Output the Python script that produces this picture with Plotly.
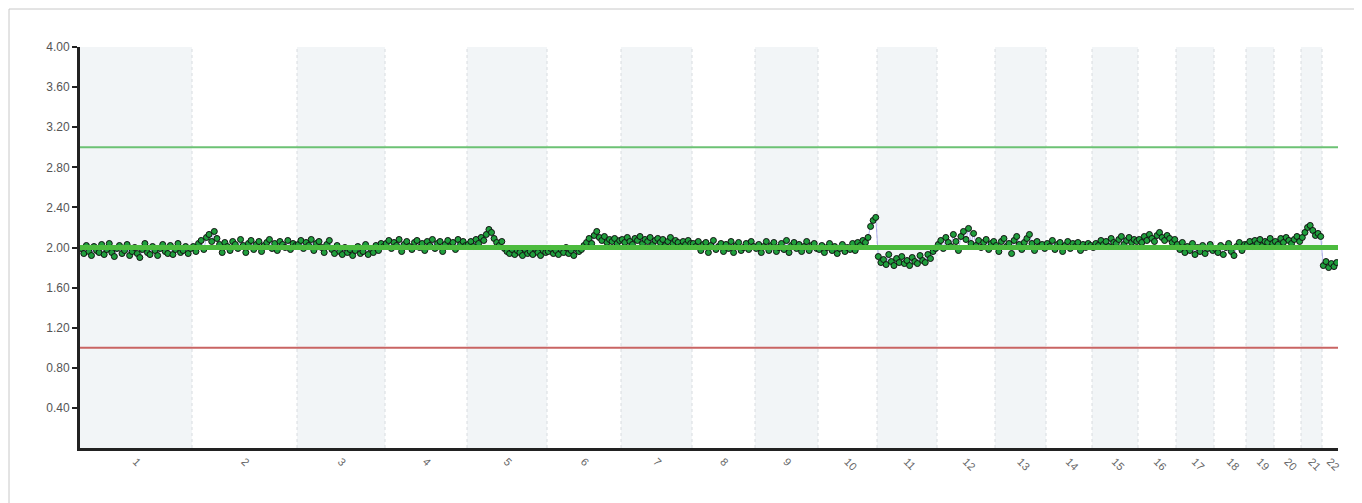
import plotly.graph_objects as go

# ---- data ----
chromosomes = [str(i) for i in range(1, 23)]
chrom_sizes = [112, 105, 88, 82, 80, 74, 71, 63, 63, 59, 60, 58, 51, 46, 46, 38, 38, 32, 28, 27, 21, 16]

chr1 = [1.99, 1.94, 2.02, 1.96, 1.92, 2.01, 1.97, 1.95, 2.03, 1.93, 1.98, 2.04, 1.95, 1.91, 1.99, 2.02,
        1.94, 1.97, 2.03, 1.92, 1.96, 2.00, 1.94, 1.90, 1.98, 2.04, 1.95, 1.93, 2.01, 1.97, 1.92, 1.99,
        2.03, 1.96, 1.94, 2.02, 1.93, 1.98, 2.04, 1.95, 1.97, 2.01, 1.94, 1.99]
chr2 = [2.01, 1.96, 2.04, 2.07, 1.98, 2.10, 2.13, 2.06, 2.16, 2.09, 2.03, 1.95, 2.05, 2.01, 1.97, 2.06,
        2.03, 1.99, 2.08, 2.02, 1.95, 2.04, 2.07, 1.98, 2.03, 2.06, 1.96, 2.02, 2.05, 2.08, 1.99, 2.04,
        1.97, 2.06, 2.03, 2.00, 2.07, 1.98, 2.04, 2.02]
chr3 = [2.03, 2.07, 1.99, 2.05, 2.02, 2.08, 1.97, 2.04, 2.06, 2.00, 1.95, 2.03, 2.07, 1.98, 1.94, 2.02,
        1.96, 1.93, 2.00, 1.95, 1.98, 1.92, 1.97, 2.01, 1.94, 1.96, 2.03, 1.93, 1.99, 1.95, 2.02, 1.97,
        2.04, 2.01]
chr4 = [2.04, 2.07, 1.99, 2.05, 2.02, 2.08, 1.96, 2.03, 2.06, 2.01, 1.98, 2.05, 2.07, 2.00, 2.04, 1.97,
        2.06, 2.02, 2.08, 1.99, 2.04, 2.06, 1.96, 2.03, 2.07, 2.01, 2.05, 1.98, 2.08, 2.03, 2.06, 2.02]
chr5 = [2.03, 2.06, 2.01, 2.08, 2.04, 2.10, 2.07, 2.13, 2.18, 2.15, 2.09, 2.05, 2.02, 2.06, 1.99, 1.96,
        1.94, 1.98, 1.93, 1.97, 1.95, 1.92, 1.98, 1.94, 1.96, 1.93, 1.99, 1.95, 1.92, 1.97, 1.95]
chr6 = [1.96, 1.99, 1.94, 1.97, 1.93, 1.98, 1.95, 2.00, 1.94, 1.97, 1.92, 1.99, 1.96, 1.98, 2.02, 2.05,
        2.09, 2.04, 2.12, 2.16, 2.10, 2.07, 2.11, 2.05, 2.08, 2.06, 2.09, 2.04, 2.07]
chr7 = [2.08, 2.05, 2.10, 2.06, 2.03, 2.09, 2.07, 2.11, 2.04, 2.08, 2.06, 2.10, 2.03, 2.07, 2.09, 2.05,
        2.08, 2.02, 2.06, 2.10, 2.04, 2.07, 2.05, 2.01, 2.06, 2.03, 2.07, 2.04]
chr8 = [2.04, 2.01, 2.06, 1.97, 2.03, 2.05, 1.95, 2.02, 2.07, 1.98, 2.01, 2.04, 1.96, 2.03, 1.99, 2.06,
        1.95, 2.02, 2.05, 1.97, 2.00, 2.04, 1.98, 2.06, 2.01]
chr9 = [1.99, 2.03, 1.95, 2.01, 2.06, 1.97, 2.02, 2.05, 1.96, 2.00, 2.04, 1.98, 2.07, 1.95, 2.02, 2.05,
        1.99, 2.03, 1.96, 2.01, 2.06, 1.97, 2.02, 2.04, 1.99]
chr10 = [1.98, 2.02, 1.95, 2.00, 2.04, 1.97, 2.01, 1.94, 1.99, 2.03, 1.96, 2.00, 1.98, 2.04, 1.97, 2.05,
         2.02, 2.07, 2.05, 2.10, 2.21, 2.27, 2.30]
chr11 = [1.91, 1.85, 1.88, 1.83, 1.93, 1.86, 1.82, 1.89, 1.85, 1.91, 1.84, 1.87, 1.82, 1.90, 1.86, 1.84,
         1.92, 1.87, 1.85, 1.93, 1.89, 1.96, 1.99]
chr12 = [2.03, 2.07, 1.99, 2.10, 2.05, 2.01, 2.13, 2.06, 1.97, 2.11, 2.16, 2.08, 2.19, 2.04, 2.14, 2.02,
         2.07, 2.00, 2.05, 2.08, 1.98, 2.04, 2.06]
chr13 = [2.02, 1.96, 2.06, 2.09, 2.01, 2.04, 1.94, 2.07, 2.11, 2.03, 1.98, 2.05, 2.09, 2.13, 2.04, 1.97,
         2.06, 2.01, 2.03, 1.99]
chr14 = [2.04, 2.01, 2.07, 1.98, 2.03, 2.05, 1.96, 2.02, 2.06, 1.99, 2.04, 2.01, 2.05, 1.97, 2.03, 2.00,
         2.04, 2.02]
chr15 = [2.00, 2.04, 2.02, 2.07, 2.03, 2.06, 2.01, 2.09, 2.05, 2.04, 2.08, 2.11, 2.03, 2.07, 2.10, 2.05,
         2.08, 2.06]
chr16 = [2.08, 2.05, 2.11, 2.07, 2.13, 2.09, 2.06, 2.12, 2.15, 2.10, 2.07, 2.12, 2.09, 2.05, 2.08]
chr17 = [2.03, 1.98, 2.05, 1.95, 2.01, 1.97, 2.04, 1.93, 2.00, 1.96, 2.02, 1.94, 1.99, 2.03, 1.97]
chr18 = [1.99, 1.95, 2.02, 1.93, 2.00, 2.04, 1.96, 1.92, 2.01, 2.05, 1.97, 2.03]
chr19 = [2.03, 2.06, 2.01, 2.07, 2.04, 2.08, 2.02, 2.06, 2.05, 2.09, 2.04]
chr20 = [2.06, 2.03, 2.09, 2.05, 2.10, 2.07, 2.04, 2.08, 2.11, 2.06]
chr21 = [2.10, 2.15, 2.20, 2.22, 2.17, 2.12, 2.14, 2.11]
chr22 = [1.82, 1.86, 1.80, 1.84, 1.81, 1.85]

copy_values = [chr1, chr2, chr3, chr4, chr5, chr6, chr7, chr8, chr9, chr10, chr11,
               chr12, chr13, chr14, chr15, chr16, chr17, chr18, chr19, chr20, chr21, chr22]

y_ticks = [0.4, 0.8, 1.2, 1.6, 2.0, 2.4, 2.8, 3.2, 3.6, 4.0]
normal_level = 2.0
gain_level = 3.0
loss_level = 1.0

# ---- build ----
starts = []
acc = 0
for s in chrom_sizes:
    starts.append(acc)
    acc += s
total = acc
centers = [st + s / 2 for st, s in zip(starts, chrom_sizes)]

xs, ys = [], []
for st, s, vals in zip(starts, chrom_sizes, copy_values):
    n = len(vals)
    for i, v in enumerate(vals):
        xs.append(st + (i + 0.5) * s / n)
        ys.append(v)

shapes = []
for k, (st, s) in enumerate(zip(starts, chrom_sizes)):
    if k % 2 == 0:
        shapes.append(dict(type="rect", xref="x", yref="y", x0=st, x1=st + s, y0=0, y1=4,
                           fillcolor="#f2f5f7", line=dict(width=0), layer="below"))
for st in starts[1:]:
    shapes.append(dict(type="line", xref="x", yref="y", x0=st, x1=st, y0=0, y1=4,
                       line=dict(color="#d8dce0", width=1, dash="dot"), layer="below"))

# reference lines
shapes.append(dict(type="line", xref="x", yref="y", x0=0, x1=total, y0=gain_level, y1=gain_level,
                   line=dict(color="#6cc274", width=2), layer="above"))
shapes.append(dict(type="line", xref="x", yref="y", x0=0, x1=total, y0=loss_level, y1=loss_level,
                   line=dict(color="#c96463", width=2), layer="above"))
shapes.append(dict(type="line", xref="x", yref="y", x0=0, x1=total, y0=normal_level, y1=normal_level,
                   line=dict(color="#4cbb3e", width=5), layer="above"))

# outer frame (left and top edges)
shapes.append(dict(type="line", xref="paper", yref="paper", x0=-71 / 1258, x1=-71 / 1258,
                   y0=1 + 38 / 401, y1=-60 / 401, line=dict(color="#c8c8c8", width=1)))
shapes.append(dict(type="line", xref="paper", yref="paper", x0=-71 / 1258, x1=1.1,
                   y0=1 + 38 / 401, y1=1 + 38 / 401, line=dict(color="#c8c8c8", width=1)))

fig = go.Figure()
fig.add_trace(go.Scatter(
    x=xs, y=ys, mode="lines+markers",
    line=dict(color="rgba(120,120,225,0.55)", width=1),
    marker=dict(size=6, color="#1f9e3c", line=dict(color="#111111", width=1)),
    showlegend=False, hoverinfo="y"))

fig.update_layout(
    width=1354, height=495,
    margin=dict(l=72, r=24, t=39, b=55),
    paper_bgcolor="white", plot_bgcolor="white",
    shapes=shapes,
    font=dict(family="Liberation Sans, Arial, sans-serif", color="#555555"),
    xaxis=dict(range=[0, total], tickvals=centers, ticktext=chromosomes, tickangle=45,
               showgrid=False, zeroline=False, showline=True, linecolor="#222222", linewidth=3,
               ticks="", tickfont=dict(size=11, color="#666666")),
    yaxis=dict(range=[0, 4], tickvals=y_ticks, ticktext=[f"{v:.2f}" for v in y_ticks],
               showgrid=False, zeroline=False, showline=True, linecolor="#222222", linewidth=3,
               ticks="outside", ticklen=5, tickwidth=1.5, tickcolor="#222222",
               tickfont=dict(size=12, color="#555555")),
)

fig.write_html("out.html")
